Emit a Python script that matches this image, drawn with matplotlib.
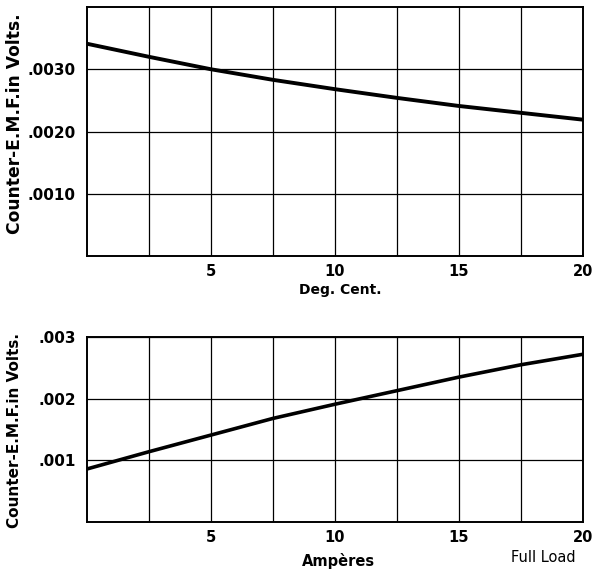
import matplotlib
matplotlib.use("Agg")
import matplotlib.pyplot as plt
from matplotlib.ticker import FixedLocator

# Top chart: counter-EMF vs temperature
temp_deg = [0, 2.5, 5, 7.5, 10, 12.5, 15, 17.5, 20]
emf_temp = [0.00341, 0.00320, 0.00300, 0.00283, 0.00268, 0.00254, 0.00241, 0.00230, 0.00219]

# Bottom chart: counter-EMF vs current
amperes = [0, 2.5, 5, 7.5, 10, 12.5, 15, 17.5, 20]
emf_amp = [0.00086, 0.00114, 0.00141, 0.00168, 0.00191, 0.00213, 0.00235, 0.00255, 0.00272]

x_ticks = [5, 10, 15, 20]
x_tick_labels = ["5", "10", "15", "20"]
top_y_ticks = [0.001, 0.002, 0.003]
top_y_labels = [".0010", ".0020", ".0030"]
bot_y_ticks = [0.001, 0.002, 0.003]
bot_y_labels = [".001", ".002", ".003"]

ylabel_text = "Counter-E.M.F.in Volts."

fig = plt.figure(figsize=(5.97, 5.71), dpi=100)
fig.patch.set_facecolor("white")

font = dict(family="DejaVu Sans", weight="bold")

def style(ax, ymax, yticks, ylabels):
    ax.set_xlim(0, 20)
    ax.set_ylim(0, ymax)
    ax.xaxis.set_major_locator(FixedLocator(x_ticks))
    ax.set_xticklabels(x_tick_labels, fontsize=10.5, **font)
    ax.set_yticks(yticks)
    ax.set_yticklabels(ylabels, fontsize=11, **font)
    ax.xaxis.set_minor_locator(FixedLocator([2.5, 7.5, 12.5, 17.5]))
    ax.grid(True, which="both", color="black", linewidth=0.9)
    ax.tick_params(which="both", length=0)
    ax.tick_params(axis="x", pad=6)
    ax.tick_params(axis="y", pad=8)
    for s in ax.spines.values():
        s.set_linewidth(1.4)
        s.set_color("black")
    ax.set_axisbelow(True)

ax1 = fig.add_axes([0.1457, 0.5517, 0.8308, 0.436])
ax1.plot(temp_deg, emf_temp, color="black", linewidth=2.8,
         solid_capstyle="butt", solid_joinstyle="round")
style(ax1, 0.004, top_y_ticks, top_y_labels)

ax2 = fig.add_axes([0.1457, 0.0858, 0.8308, 0.324])
ax2.plot(amperes, emf_amp, color="black", linewidth=2.6,
         solid_capstyle="butt", solid_joinstyle="round")
style(ax2, 0.003, bot_y_ticks, bot_y_labels)

fig.text(15 / 597, 1 - 124 / 571, ylabel_text, rotation=90, ha="center", va="center",
         fontsize=12.3, **font)
fig.text(15 / 597, 1 - 431 / 571, ylabel_text, rotation=90, ha="center", va="center",
         fontsize=11, **font)

fig.text(340 / 597, 1 - 290 / 571, "Deg. Cent.", ha="center", va="center", fontsize=10, **font)
fig.text(338 / 597, 1 - 561 / 571, "Ampères", ha="center", va="center", fontsize=10.5, **font)
fig.text(543 / 597, 1 - 558 / 571, "Full Load", ha="center", va="center", fontsize=10.5,
         family="DejaVu Sans")

fig.savefig("out.png", dpi=100, facecolor="white")
